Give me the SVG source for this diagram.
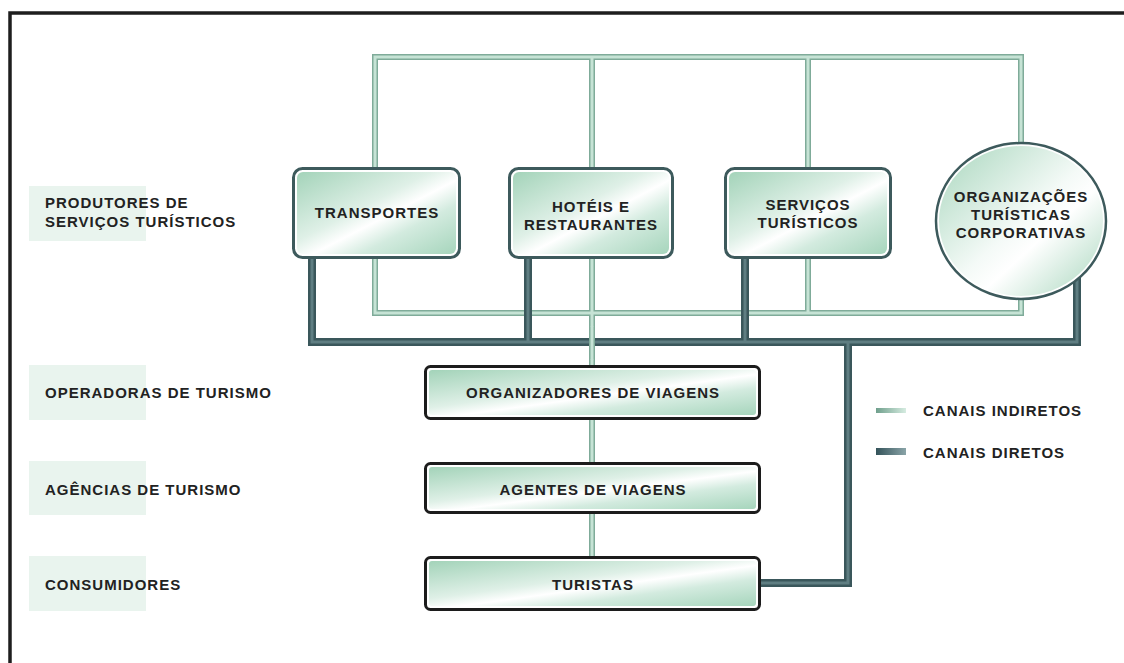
<svg xmlns="http://www.w3.org/2000/svg" width="1124" height="663" viewBox="0 0 1124 663">
  <style>
    .t { font-family: "Liberation Sans", Arial, sans-serif; font-weight: bold; font-size: 15px; letter-spacing: 1px; fill: #222; }
    .c { text-anchor: middle; }
    .lbl { fill: #e9f4ee; }
    .ind-o { fill: none; stroke: #7fab99; stroke-width: 6; stroke-linejoin: miter; stroke-linecap: square; }
    .ind-i { fill: none; stroke: #c6e3d5; stroke-width: 3; stroke-linejoin: miter; stroke-linecap: square; }
    .dir-o { fill: none; stroke: #3a575b; stroke-width: 8; stroke-linejoin: miter; stroke-linecap: square; }
    .dir-i { fill: none; stroke: #5f7e82; stroke-width: 3; stroke-linejoin: miter; stroke-linecap: square; }
    .prod { fill: #fff; stroke: #3d5a5c; stroke-width: 3; }
    .chain { fill: #fff; stroke: #1c1c1c; stroke-width: 3; }
    .inner { fill: url(#boxFill); }
  </style>
  <defs>
    <linearGradient id="boxFill" x1="0" y1="0" x2="1" y2="1">
      <stop offset="0" stop-color="#a3d3b9"/>
      <stop offset="0.42" stop-color="#dff0e7"/>
      <stop offset="0.55" stop-color="#ffffff"/>
      <stop offset="0.7" stop-color="#d3ebdf"/>
      <stop offset="1" stop-color="#a6d5bc"/>
    </linearGradient>
    <linearGradient id="circFill" x1="0" y1="0" x2="1" y2="1">
      <stop offset="0" stop-color="#a8d6bd"/>
      <stop offset="0.5" stop-color="#f4faf7"/>
      <stop offset="0.62" stop-color="#ffffff"/>
      <stop offset="1" stop-color="#a8d6bd"/>
    </linearGradient>
    <linearGradient id="swInd" x1="0" y1="0" x2="1" y2="0">
      <stop offset="0" stop-color="#6f9f8c"/>
      <stop offset="1" stop-color="#d6ece1"/>
    </linearGradient>
    <linearGradient id="swDir" x1="0" y1="0" x2="1" y2="0">
      <stop offset="0" stop-color="#34535a"/>
      <stop offset="1" stop-color="#8aa4a8"/>
    </linearGradient>
  </defs>

  <rect width="1124" height="663" fill="#fff"/>
  <!-- frame -->
  <path d="M10,663 V13 H1124" fill="none" stroke="#1e1e1e" stroke-width="3.5"/>

  <!-- row labels -->
  <g id="row-labels">
    <rect class="lbl" x="29" y="186" width="117" height="55"/>
    <rect class="lbl" x="29" y="365" width="117" height="55"/>
    <rect class="lbl" x="29" y="461" width="117" height="54"/>
    <rect class="lbl" x="29" y="556" width="117" height="55"/>
    <text class="t" x="45" y="208">PRODUTORES DE</text>
    <text class="t" x="45" y="227">SERVIÇOS TURÍSTICOS</text>
    <text class="t" x="45" y="398">OPERADORAS DE TURISMO</text>
    <text class="t" x="45" y="495">AGÊNCIAS DE TURISMO</text>
    <text class="t" x="45" y="590">CONSUMIDORES</text>
  </g>

  <!-- channels -->
  <g id="connectors">
    <!-- indirect channels -->
    <path class="ind-o" d="M375,313 V57 H1021 V313 Z M808,57 V313 M592,57 V557"/>
    <path class="ind-i" d="M375,313 V57 H1021 V313 Z M808,57 V313 M592,57 V557"/>
    <!-- direct channels -->
    <path class="dir-o" d="M312,258 V342 H1077 V280 M528,258 V342 M745,258 V342 M848,342 V583 H760"/>
    <path class="dir-i" d="M312,258 V342 H1077 V280 M528,258 V342 M745,258 V342 M848,342 V583 H760"/>
    <!-- indirect line passing over the direct bus -->
    <path class="ind-o" d="M592,330 V356"/>
    <path class="ind-i" d="M592,328 V358"/>
  </g>

  <g id="transportes">
    <rect class="prod" x="293.5" y="168.5" width="166" height="89" rx="9"/>
    <rect class="inner" x="297" y="172" width="159" height="82" rx="6"/>
    <text class="t c" x="377" y="218">TRANSPORTES</text>
  </g>

  <g id="hoteis">
    <rect class="prod" x="509.5" y="168.5" width="163" height="89" rx="9"/>
    <rect class="inner" x="513" y="172" width="156" height="82" rx="6"/>
    <text class="t c" x="591" y="212">HOTÉIS E</text>
    <text class="t c" x="591" y="230">RESTAURANTES</text>
  </g>

  <g id="servicos">
    <rect class="prod" x="725.5" y="168.5" width="165" height="89" rx="9"/>
    <rect class="inner" x="729" y="172" width="158" height="82" rx="6"/>
    <text class="t c" x="808" y="210">SERVIÇOS</text>
    <text class="t c" x="808" y="228">TURÍSTICOS</text>
  </g>

  <g id="organizacoes">
    <ellipse cx="1021" cy="221" rx="85" ry="78" fill="#fff" stroke="#3d5a5c" stroke-width="2.5"/>
    <ellipse cx="1021" cy="221" rx="82" ry="75" fill="url(#circFill)"/>
    <text class="t c" x="1021" y="202">ORGANIZAÇÕES</text>
    <text class="t c" x="1021" y="220">TURÍSTICAS</text>
    <text class="t c" x="1021" y="238">CORPORATIVAS</text>
  </g>

  <g id="organizadores">
    <rect class="chain" x="425.5" y="366.5" width="334" height="52" rx="5"/>
    <rect class="inner" x="429" y="370" width="327" height="45" rx="3"/>
    <text class="t c" x="593" y="398">ORGANIZADORES DE VIAGENS</text>
  </g>

  <g id="agentes">
    <rect class="chain" x="425.5" y="463.5" width="334" height="49" rx="5"/>
    <rect class="inner" x="429" y="467" width="327" height="42" rx="3"/>
    <text class="t c" x="593" y="495">AGENTES DE VIAGENS</text>
  </g>

  <g id="turistas">
    <rect class="chain" x="425.5" y="557.5" width="334" height="52" rx="5"/>
    <rect class="inner" x="429" y="561" width="327" height="45" rx="3"/>
    <text class="t c" x="593" y="590">TURISTAS</text>
  </g>

  <g id="legend">
    <rect x="876" y="408" width="30" height="5" fill="url(#swInd)"/>
    <rect x="876" y="448" width="30" height="7" fill="url(#swDir)"/>
    <text class="t" x="923" y="416">CANAIS INDIRETOS</text>
    <text class="t" x="923" y="458">CANAIS DIRETOS</text>
  </g>
</svg>
